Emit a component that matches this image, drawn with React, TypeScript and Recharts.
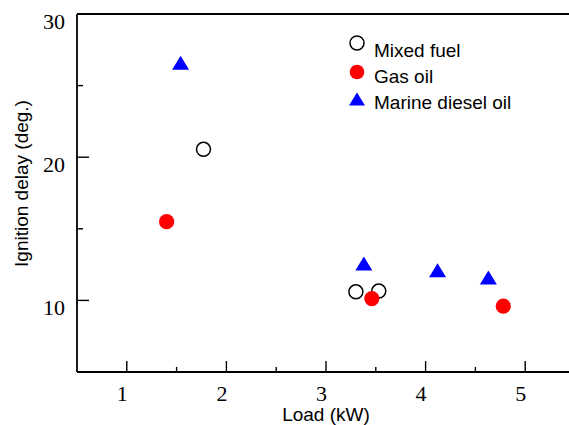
import { ScatterChart, Scatter, XAxis, YAxis, Legend } from 'recharts';

const xTicks = [1, 1.5, 2, 2.5, 3, 3.5, 4, 4.5, 5];
const yTicks = [10, 15, 20, 25, 30];

const mixedFuel = [
    { load: 1.77, delay: 20.55 },
    { load: 3.3, delay: 10.6 },
    { load: 3.53, delay: 10.65 },
];
const gasOil = [
    { load: 1.4, delay: 15.5 },
    { load: 3.46, delay: 10.13 },
    { load: 4.78, delay: 9.6 },
];
const marineDiesel = [
    { load: 1.54, delay: 26.6 },
    { load: 3.38, delay: 12.58 },
    { load: 4.12, delay: 12.1 },
    { load: 4.63, delay: 11.6 },
];

const seriesNames = ['Mixed fuel', 'Gas oil', 'Marine diesel oil'];

const serif = '"Liberation Serif", "Times New Roman", serif';
const sans = '"Liberation Sans", Arial, sans-serif';
const tickStroke = 1.4;

// ticks point into the plot; labels only on the bottom / left axes
function BottomTick({ x, y, payload }: any) {
    const major = Number.isInteger(payload.value);
    return (
        <g>
            <line x1={x} x2={x} y1={y} y2={y - (major ? 11 : 5)} stroke="#000" strokeWidth={tickStroke} />
            {major && (
                <text x={x - 4.5} y={y + 29} textAnchor="middle" fontFamily={serif} fontSize={22} fill="#000">
                    {payload.value}
                </text>
            )}
        </g>
    );
}

function TopTick({ x, y, payload }: any) {
    const major = Number.isInteger(payload.value);
    return <line x1={x} x2={x} y1={y} y2={y + (major ? 11 : 5)} stroke="#000" strokeWidth={tickStroke} />;
}

function LeftTick({ x, y, payload }: any) {
    const major = payload.value % 10 === 0;
    return (
        <g>
            <line x1={x} x2={x + (major ? 12 : 6)} y1={y} y2={y} stroke="#000" strokeWidth={tickStroke} />
            {major && (
                <text x={x - 12} y={y + 15} textAnchor="end" fontFamily={serif} fontSize={22} fill="#000">
                    {payload.value}
                </text>
            )}
        </g>
    );
}

function RightTick({ x, y, payload }: any) {
    const major = payload.value % 10 === 0;
    return <line x1={x} x2={x - (major ? 12 : 6)} y1={y} y2={y} stroke="#000" strokeWidth={tickStroke} />;
}

const OpenCircle = ({ cx, cy }: any) => (
    <circle cx={cx} cy={cy} r={7} fill="#fff" stroke="#000" strokeWidth={1.5} />
);
const RedDot = ({ cx, cy }: any) => <circle cx={cx} cy={cy} r={7.6} fill="#ff0000" />;
const BlueTriangle = ({ cx, cy }: any) => (
    <path d={`M${cx},${cy - 7} L${cx + 8.5},${cy + 7} L${cx - 8.5},${cy + 7} Z`} fill="#0000ff" />
);

function LegendBox() {
    const rowY = [11, 40, 67];
    const textY = [24.5, 51, 77];
    return (
        <svg width={200} height={90} style={{ display: 'block' }}>
            <circle cx={11} cy={rowY[0]} r={7} fill="#fff" stroke="#000" strokeWidth={1.5} />
            <circle cx={11} cy={rowY[1]} r={7.3} fill="#ff0000" />
            <path d={`M11,${rowY[2] - 6.5} L19,${rowY[2] + 6.5} L3,${rowY[2] + 6.5} Z`} fill="#0000ff" />
            {seriesNames.map((name, i) => (
                <text key={name} x={28} y={textY[i]} fontFamily={sans} fontSize={19} fill="#000">
                    {name}
                </text>
            ))}
        </svg>
    );
}

export default function App() {
    return (
        <div style={{ position: 'absolute', left: 0, top: 0, width: 569, height: 425, overflow: 'hidden', background: '#fff' }}>
            <ScatterChart width={576} height={425} margin={{ top: 13, right: 0, bottom: 0, left: 0 }}>
                <XAxis
                    xAxisId="bottom"
                    type="number"
                    dataKey="load"
                    domain={[0.5, 5.5]}
                    ticks={xTicks}
                    interval={0}
                    height={53}
                    tickSize={0}
                    tickMargin={0}
                    tickLine={false}
                    tick={<BottomTick />}
                    stroke="#000"
                    strokeWidth={1.8}
                    label={{
                        content: ({ viewBox }: any) => (
                            <text x={viewBox.x + viewBox.width / 2} y={viewBox.y + 49} textAnchor="middle" fontFamily={sans} fontSize={19} fill="#000">
                                Load (kW)
                            </text>
                        ),
                    }}
                />
                <XAxis
                    xAxisId="top"
                    orientation="top"
                    type="number"
                    dataKey="load"
                    domain={[0.5, 5.5]}
                    ticks={xTicks}
                    interval={0}
                    height={1}
                    tickSize={0}
                    tickMargin={0}
                    tickLine={false}
                    tick={<TopTick />}
                    stroke="#000"
                    strokeWidth={1.8}
                />
                <YAxis
                    yAxisId="left"
                    type="number"
                    dataKey="delay"
                    domain={[5, 30]}
                    ticks={yTicks}
                    interval={0}
                    width={77}
                    tickSize={0}
                    tickMargin={0}
                    tickLine={false}
                    tick={<LeftTick />}
                    stroke="#000"
                    strokeWidth={1.8}
                    label={{
                        content: ({ viewBox }: any) => {
                            const cx = viewBox.x + 27.5;
                            const cy = viewBox.y + viewBox.height / 2 - 9.5;
                            return (
                                <text x={cx} y={cy} transform={`rotate(-90, ${cx}, ${cy})`} textAnchor="middle" fontFamily={sans} fontSize={19} fill="#000">
                                    Ignition delay (deg.)
                                </text>
                            );
                        },
                    }}
                />
                <YAxis
                    yAxisId="right"
                    orientation="right"
                    type="number"
                    dataKey="delay"
                    domain={[5, 30]}
                    ticks={yTicks}
                    interval={0}
                    width={1}
                    tickSize={0}
                    tickMargin={0}
                    tickLine={false}
                    tick={<RightTick />}
                    stroke="#000"
                    strokeWidth={1.8}
                />
                <Legend
                    layout="vertical"
                    align="center"
                    verticalAlign="middle"
                    wrapperStyle={{ left: 346, top: 32, width: 200, height: 90 }}
                    content={() => <LegendBox />}
                />
                <Scatter name={seriesNames[0]} data={mixedFuel} xAxisId="bottom" yAxisId="left" shape={<OpenCircle />} isAnimationActive={false} />
                <Scatter name={seriesNames[1]} data={gasOil} xAxisId="bottom" yAxisId="left" shape={<RedDot />} isAnimationActive={false} />
                <Scatter name={seriesNames[2]} data={marineDiesel} xAxisId="bottom" yAxisId="left" shape={<BlueTriangle />} isAnimationActive={false} />
            </ScatterChart>
        </div>
    );
}
